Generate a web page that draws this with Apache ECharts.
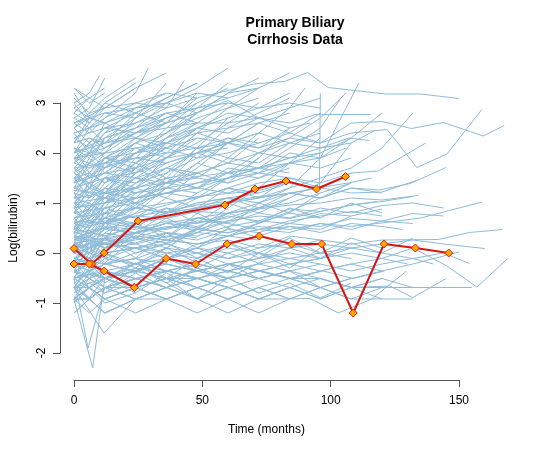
<!DOCTYPE html>
<html>
<head>
<meta charset="utf-8">
<script src="https://cdn.jsdelivr.net/npm/echarts@6/dist/echarts.min.js"></script>
<style>
  html, body { margin: 0; padding: 0; background: #fff; }
  #chart { width: 554px; height: 450px; }
</style>
</head>
<body>
<div id="chart"></div>
<script>
// axis ticks
const xTicks = [0, 50, 100, 150]
const yTicks = [-2, -1, 0, 1, 2, 3]

// highlighted patients: time (months) / log(bilirubin)
const hiA_time = [0, 6.9, 11.8, 25, 58.8, 70.5, 82.6, 94.5, 105.8]
const hiA_value = [0.09, -0.22, 0, 0.64, 0.96, 1.28, 1.44, 1.28, 1.53]
const hiB_time = [0, 6, 11.8, 23.5, 35.9, 47.4, 59.6, 72.2, 84.8, 96.5, 108.8, 120.8, 133, 146]
const hiB_value = [-0.22, -0.22, -0.36, -0.69, -0.11, -0.22, 0.18, 0.34, 0.18, 0.18, -1.2, 0.18, 0.1, 0]

// all other patients, each as t,y,t,y,...
const patients = [
  [0,-0.92, 6,-0.92, 12,-0.69, 24,-0.92, 36,-0.92, 48,-0.69, 60,-0.92, 72,-0.69, 84,-0.92, 96,-0.69],
  [0,-0.69, 6,-0.51, 12,-0.69, 25,-0.51, 37,-0.36, 49,-0.51, 61,-0.22, 73,-0.36, 85,-0.51, 97,-0.36, 109,-0.51, 121,-0.36],
  [0,-0.51, 6,-0.36, 12,-0.22, 24,-0.36, 36,-0.11, 48,0, 60,-0.22, 72,-0.11, 84,0.1, 96,0.18, 108,0.1],
  [0,-0.36, 6,-0.51, 12,-0.36, 24,-0.22, 36,-0.36, 48,-0.51, 60,-0.36, 72,-0.51, 84,-0.69, 96,-0.51, 108,-0.69, 120,-0.51, 132,-0.69],
  [0,-0.22, 6,-0.11, 12,0, 24,0.1, 36,-0.11, 48,0.18, 60,0.26, 72,0.1, 84,0.34, 96,0.26],
  [0,0, 6,0.1, 12,0.18, 24,0.26, 36,0.41, 48,0.34, 60,0.53, 72,0.64, 84,0.59, 96,0.79, 108,0.74],
  [0,-0.11, 6,-0.22, 12,-0.36, 24,-0.51, 36,-0.36, 48,-0.22, 60,-0.36, 72,-0.51, 84,-0.36],
  [0,0.1, 6,0, 12,-0.11, 24,0.1, 36,0.18, 48,0, 60,-0.11, 72,0.1, 84,0.18, 96,0, 108,0.1, 120,0.18, 132,0.26, 144,0.18, 160,0.09],
  [0,-0.69, 6,-0.92, 12,-0.69, 24,-0.51, 36,-0.69, 48,-0.92, 60,-0.69, 72,-0.92, 84,-0.69, 96,-0.92, 108,-0.69, 120,-0.51],
  [0,-0.92, 6,-0.69, 12,-0.92, 24,-0.69, 36,-0.51, 48,-0.69, 60,-0.51, 72,-0.36, 84,-0.51, 96,-0.69, 108,-0.92, 120,-0.69, 131,-0.69, 143,-0.69, 155,-0.69],
  [0,-1.2, 6,-0.92, 12,-1.2, 24,-0.92, 36,-0.69, 48,-0.92, 60,-1.2, 72,-0.92, 84,-0.69],
  [0,0.34, 6,0.26, 12,0.47, 24,0.41, 36,0.59, 48,0.53, 60,0.74, 72,0.64, 84,0.88, 96,0.83, 108,0.96, 120,1.03, 132,1.13],
  [0,0.53, 6,0.64, 12,0.59, 24,0.79, 36,0.96, 48,1.13, 60,1.19, 72,1.25, 84,1.41],
  [0,-0.51, 6,-0.69, 12,-0.51, 24,-0.36, 36,-0.51, 48,-0.36, 60,-0.22, 72,-0.36, 84,-0.22, 96,-0.11, 108,0, 120,-0.11, 132,0.1, 145,-0.25, 157,-0.68, 169,-0.11],
  [0,-0.36, 6,-0.22, 12,-0.36, 24,-0.51, 36,-0.69, 48,-0.51, 60,-0.69, 72,-0.51, 84,-0.36, 96,-0.51, 108,-0.69, 123,-0.66, 132,-0.89, 145,-0.51],
  [0,0.18, 6,0.26, 12,0.1, 24,0.34, 36,0.26, 48,0.47, 60,0.41, 72,0.53, 84,0.47, 96,0.59, 108,0.53, 123,0.62, 135,0.7, 159,1.02],
  [0,0.1, 6,0.18, 12,0, 24,0.1, 36,-0.11, 48,0.1, 60,0, 72,0.18, 84,0.1, 96,0.26, 108,0.18, 120,0.26, 142,0.27, 154,0.41, 167,0.47],
  [0,-0.22, 6,-0.36, 12,-0.22, 24,-0.11, 36,-0.22, 48,-0.36, 60,-0.22, 72,-0.11, 84,0, 96,-0.11, 108,0.1, 120,0, 132,-0.11, 144,0, 154,-0.21],
  [0,-0.92, 6,-0.69, 12,-0.51, 24,-0.69, 36,-0.92, 48,-1.2, 60,-0.92, 72,-0.69, 84,-0.51, 96,-0.69, 108,-0.51, 120,-0.36, 132,-0.22, 150,0.02],
  [0,0.26, 6,0.41, 12,0.34, 24,0.53, 36,0.47, 48,0.64, 60,0.59, 72,0.47, 84,0.64, 96,0.74, 108,0.83, 120,0.74],
  [0,2.6, 12,2.9, 24,3.0, 36,3.2, 48,3.1, 60,3.25, 70,3.38, 82,3.43, 91,3.61, 99,3.31, 121.5,3.18, 135,3.18, 150,3.09],
  [0,1.4, 12,1.6, 24,1.7, 36,1.9, 48,2.0, 60,2.2, 72,2.1, 84,2.3, 96,2.2, 108,2.4, 122,2.47, 133.6,1.71, 145.3,1.98, 158.9,2.87],
  [0,1.9, 12,2.0, 24,2.1, 36,2.2, 48,2.1, 60,2.3, 72,2.2, 84,2.4, 96,2.2, 108,2.6, 120,2.63, 131.5,2.49, 143.9,2.61, 159.4,2.34, 167.6,2.55],
  [0,0.6, 12,0.7, 24,0.9, 36,0.8, 48,1.0, 60,1.1, 72,1.0, 84,1.2, 96,1.1, 108,1.3, 119,1.26, 131,1.39, 145,1.71],
  [0,0.9, 12,1.0, 24,1.1, 36,1.2, 48,1.3, 60,1.2, 72,1.4, 84,1.5, 96,1.4, 108,1.6, 118.5,1.64, 137,2.2],
  [0,0.4, 12,0.5, 24,0.6, 36,0.7, 48,0.9, 60,1.0, 72,1.1, 84,1.2, 96,1.3, 108,1.2, 120,1.22, 134,1.46],
  [0,1.0, 12,1.1, 24,1.0, 36,1.2, 48,1.1, 60,1.3, 72,1.2, 84,1.4, 95.6,1.3, 96,3.19],
  [0,2.0, 12,2.2, 24,2.4, 36,2.5, 48,2.6, 60,2.6, 72,2.7, 84,2.6, 94,2.77, 115.6,2.77],
  [0,0.2, 12,0.3, 24,0.4, 36,0.5, 48,0.7, 60,0.8, 72,1.0, 84,1.3, 96,1.9, 111,3.4],
  [0,0.7, 12,0.8, 24,0.9, 36,1.0, 48,1.1, 60,1.3, 72,1.5, 84,1.8, 96,2.0, 108,2.3, 120,2.8],
  [0,0.5, 12,0.6, 24,0.6, 36,0.8, 48,0.9, 60,1.0, 72,1.1, 84,1.3, 96,1.5, 108,1.7, 120,2.1, 132,2.8],
  [0,1.1, 12,1.2, 24,1.3, 36,1.5, 48,1.6, 60,1.8, 72,2.0, 84,2.3, 96,2.7, 106,3.2],
  [0,0.3, 12,0.2, 24,0.4, 36,0.6, 48,0.5, 60,0.8, 72,0.9, 84,1.1, 96,1.4, 108,2.2],
  [0,0.8, 12,0.9, 24,1.1, 36,1.2, 48,1.4, 60,1.5, 72,1.7, 84,2.1, 96,2.5, 104,3.1],
  [0,1.3, 12,1.5, 24,1.6, 36,1.8, 48,2.0, 60,2.2, 72,2.4, 84,2.9, 90,3.3],
  [0,2.9, 6,3.1, 12,3.3],
  [0,2.5, 6,2.8, 12,3.1, 24,3.5],
  [0,3.3, 6,3.0, 12,3.2],
  [0,2.2, 6,2.6, 12,2.9, 24,3.3, 36,3.6],
  [0,1.8, 6,2.0, 12,2.4, 24,2.9, 36,3.2],
  [0,2.0, 6,2.3, 12,2.2, 24,2.6, 36,2.9, 43,3.45],
  [0,1.5, 6,1.8, 12,2.1, 24,2.5, 36,3.0, 48,3.3, 60,3.7],
  [0,2.7, 6,2.9, 12,3.5],
  [0,3.0, 6,3.2, 10,3.55],
  [0,1.2, 6,1.6, 12,2.0, 24,2.7, 36,3.4],
  [0,1.0, 6,1.3, 12,1.7, 24,2.3, 36,2.6, 48,3.2],
  [0,2.4, 6,2.5, 12,2.7, 24,3.0, 36,2.9, 48,3.1],
  [0,0.8, 6,1.1, 12,1.5, 24,2.0, 36,2.4, 48,2.8, 60,3.2, 72,3.5],
  [0,2.1, 6,1.9, 12,2.3, 24,2.5, 36,2.8],
  [0,1.6, 6,1.4, 12,1.9, 24,2.2, 36,2.4, 48,2.7, 60,2.9, 72,3.3, 84,3.6],
  [0,2.6, 6,2.4, 12,2.7, 24,3.2, 29,3.7],
  [0,1.9, 6,2.2, 12,2.5, 24,2.8, 36,3.1, 48,3.4],
  [0,0.5, 6,0.9, 12,1.3, 24,1.8, 36,2.1],
  [0,0.2, 6,0.6, 12,1.0, 24,1.5, 36,1.9, 48,2.3],
  [0,-0.2, 6,0.3, 12,0.8, 24,1.4, 36,1.8],
  [0,-0.5, 6,0, 12,0.6, 24,1.2],
  [0,0, 6,0.5, 12,0.9, 24,1.6, 36,2.2, 48,2.6],
  [0,-0.7, 6,-0.2, 12,0.3, 24,0.9, 36,1.5],
  [0,0.4, 6,0.8, 12,1.2, 24,1.9, 36,2.5, 48,3.0],
  [0,1.4, 6,1.7, 12,1.8, 24,2.2, 36,2.6],
  [0,3.1, 6,2.8, 12,2.9],
  [0,2.8, 6,2.6],
  [0,2.3, 6,2.1, 12,2.4, 24,2.6],
  [0,1.7, 6,2.0, 12,2.0, 24,2.4, 36,2.7, 48,2.9, 60,3.1],
  [0,0.9, 6,1.2, 12,1.1, 24,1.6, 36,1.9, 48,2.2, 60,2.6, 72,3.0],
  [0,0.6, 6,0.7, 12,1.0, 24,1.4, 36,1.7, 48,2.0, 60,2.5, 72,2.8, 84,3.1],
  [0,1.1, 6,1.0, 12,1.4, 24,1.8, 36,2.3, 48,2.6],
  [0,1.3, 6,1.5, 12,1.6, 24,2.0, 36,2.2, 48,2.5, 60,2.8, 72,2.7, 84,2.9, 96,3.1],
  [0,-0.36, 6,0.1, 12,0.5, 24,1.1, 36,1.6, 48,2.1, 60,2.7],
  [0,2.5, 6,2.7, 12,2.6, 24,2.9, 36,3.0, 48,2.8, 60,3.2, 72,3.3],
  [0,1.5, 6,1.4, 12,1.6, 24,1.5, 36,1.7, 48,1.6, 60,1.8, 72,1.7, 84,1.9, 96,2.0],
  [0,1.2, 6,1.1, 12,1.3, 24,1.2, 36,1.4, 48,1.5, 60,1.4, 72,1.6, 84,1.5],
  [0,0.7, 6,0.8, 12,0.6, 24,0.9, 36,0.8, 48,1.0, 60,1.1, 72,0.9, 84,1.2, 96,1.1, 108,1.3, 120,1.2],
  [0,1.0, 6,0.9, 12,1.2, 24,1.1, 36,1.3, 48,1.2, 60,1.5, 72,1.7, 84,1.6],
  [0,0.3, 6,0.4, 12,0.5, 24,0.4, 36,0.6, 48,0.7, 60,0.6, 72,0.8, 84,0.7, 96,0.9, 108,0.8, 120,0.95, 132,1.0, 144,0.9],
  [0,1.8, 6,1.7, 12,1.9, 24,2.0, 36,2.1, 48,2.3, 60,2.2, 72,2.4],
  [0,2.1, 6,2.0, 12,2.2, 24,2.3, 36,2.2, 48,2.4, 60,2.5, 72,2.6, 84,2.8],
  [0,0.1, 6,0.2, 12,0.4, 24,0.3, 36,0.5, 48,0.6, 60,0.7, 72,0.9, 84,1.0, 96,1.2, 108,1.4],
  [0,0.6, 6,0.5, 12,0.7, 24,0.6, 36,0.8, 48,0.9, 60,1.1, 72,1.2],
  [0,1.6, 6,1.8, 12,1.7, 24,1.9, 36,1.8, 48,2.0, 60,2.1],
  [0,0, 6,-0.11, 12,0.1, 24,0.18, 36,0.34, 48,0.26, 60,0.47, 72,0.41, 84,0.59, 96,0.53, 108,0.69, 120,0.64, 132,0.79, 144,0.74],
  [0,0.41, 6,0.34, 12,0.53, 24,0.47, 36,0.64, 48,0.59, 60,0.79],
  [0,-0.11, 6,0, 12,-0.22, 24,-0.11, 36,0.1, 48,0, 60,0.18, 72,0.34, 84,0.53, 96,0.47, 108,0.74, 120,0.88],
  [0,0.9, 6,1.0, 12,0.8, 24,1.1, 36,1.2, 48,1.3, 60,1.5, 72,1.6, 84,1.8, 96,1.7, 108,1.9],
  [0,-0.92, 6,-0.69, 12,-0.92, 24,-0.69, 36,-0.92],
  [0,-0.69, 6,-0.92, 12,-0.69, 24,-0.92, 36,-0.69, 48,-0.51, 60,-0.69],
  [0,-0.51, 6,-0.69, 12,-0.92, 24,-0.69],
  [0,-0.36, 6,-0.51, 12,-0.36, 24,-0.69, 36,-0.51, 48,-0.69],
  [0,-0.92, 7.3,-2.3, 12,-0.51, 24,-0.36],
  [0,-0.69, 11.7,-1.6, 24,-0.92],
  [0,-0.51, 5.5,-1.9, 12,-0.69],
  [0,-1.2, 6,-0.92, 12,-0.69, 24,-0.51],
  [0,-0.92, 6,-1.2, 12,-0.92, 24,-1.2, 36,-0.92, 48,-0.69, 60,-0.92, 72,-1.2, 84,-0.92],
  [0,-0.51, 6,-0.36, 12,-0.51, 24,-0.36, 36,-0.22, 48,-0.36, 60,-0.51, 72,-0.36, 84,-0.51, 96,-0.36, 108,-0.22, 120,-0.36],
  [0,-0.22, 6,-0.36, 12,-0.11, 24,-0.22, 36,0, 48,-0.11, 60,0.1, 72,0, 84,-0.11, 96,-0.22],
  [0,0.1, 6,-0.11, 12,0, 24,-0.22, 36,-0.11, 48,-0.36, 60,-0.22, 72,-0.51, 84,-0.36, 96,-0.69, 108,-0.51],
  [0,0.18, 6,0.1, 12,0.26, 24,0.18, 36,0, 48,0.1, 60,-0.11, 72,0, 84,-0.22, 96,-0.11],
  [0,-0.69, 6,-0.51, 12,-0.69, 24,-0.51, 36,-0.36, 48,-0.51, 60,-0.69, 72,-0.92, 84,-0.69, 96,-0.92, 108,-0.69, 120,-0.92, 132,-0.92],
  [0,-0.92, 6,-0.92, 12,-0.69, 24,-0.69, 36,-0.51, 48,-0.51, 60,-0.36, 72,-0.51],
  [0,-0.36, 6,-0.22, 12,-0.51, 24,-0.36, 36,-0.51],
  [0,0.26, 6,0.34, 12,0.18, 24,0.1, 36,0.26, 48,0.18, 60,0.34, 72,0.26],
  [0,0.47, 6,0.41, 12,0.34, 24,0.53, 36,0.41],
  [0,-0.11, 6,-0.22, 12,0, 24,0.1, 36,0],
  [0,0, 6,0.1, 12,-0.11, 24,-0.22, 36,-0.36, 48,-0.22, 60,-0.36, 72,-0.22, 84,-0.11, 96,0, 108,-0.11],
  [0,-0.51, 6,-0.36, 12,-0.22, 24,0, 36,0.18, 48,0.41, 60,0.64, 72,0.88],
  [0,-0.92, 6,-0.69, 12,-0.51, 24,-0.36, 36,-0.11, 48,0.1, 60,0.34, 72,0.59, 84,0.83, 96,1.1, 108,1.4],
  [0,-0.69, 6,-0.69, 12,-0.51, 24,-0.22, 36,0.1, 48,0.47, 60,0.9, 72,1.3, 84,1.8, 96,2.3],
  [0,-0.36, 6,-0.22, 12,0.1, 24,0.41, 36,0.79, 48,1.1, 60,1.5, 72,1.9, 84,2.5],
  [0,0.1, 6,0.34, 12,0.59, 24,0.96, 36,1.4, 48,1.8, 60,2.2],
  [0,-0.51, 12,-0.36, 24,-0.51, 36,-0.69, 48,-0.51, 60,-0.69, 72,-0.92, 80,-0.92, 92,-0.91, 103,-1.2, 116,-0.92, 129.6,-0.36],
  [0,-0.36, 12,-0.51, 24,-0.36, 36,-0.22, 48,-0.36, 60,-0.22, 72,-0.36, 84,-0.51, 96,-0.51, 108,-0.69, 120,-0.69, 132,-0.69],
  [0,0.1, 12,0.18, 24,0.1, 36,0.26, 48,0.18, 60,0.34, 72,0.47, 84,0.41, 96,0.59, 108,0.47, 120,0.64, 132,0.59],
  [0,0.53, 12,0.64, 24,0.74, 36,0.69, 48,0.83, 60,0.79, 72,0.88, 84,0.96, 96,1.0, 108,1.1, 120,1.06, 134,1.15],
  [0,0.26, 12,0.18, 24,0.34, 36,0.26, 48,0.41, 60,0.34, 72,0.47, 84,0.53, 96,0.41, 108,0.59, 120,0.53, 128,0.47],
  [0,-0.11, 12,-0.22, 24,-0.11, 36,-0.36, 48,-0.22, 60,-0.36, 72,-0.22, 84,-0.36, 96,-0.22, 108,-0.36, 120,-0.22, 132,-0.11, 140,-0.22],
  [0,-0.69, 12,-0.51, 24,-0.69, 36,-0.51, 48,-0.36, 60,-0.51, 72,-0.36, 84,-0.22, 96,-0.36, 108,-0.22, 120,-0.11, 130,-0.22],
  [0,0.34, 12,0.26, 24,0.41, 36,0.53, 48,0.47, 60,0.64, 72,0.74, 84,0.69, 96,0.83, 108,0.96, 118,1.03],
  [0,0.64, 12,0.59, 24,0.74, 36,0.83, 48,0.96, 60,1.03, 72,1.13, 84,1.19, 96,1.31, 108,1.41, 116,1.5],
  [0,1.25, 12,1.19, 24,1.31, 36,1.41, 48,1.53, 60,1.61, 72,1.7, 84,1.8, 96,1.9, 106,2.1],
  [0,0.9, 12,1.0, 24,1.2, 36,1.3, 48,1.4, 60,1.6, 72,1.7, 84,1.9, 96,2.1, 108,2.2, 117.6,2.46],
  [0,1.7, 12,1.8, 24,1.9, 36,2.0, 48,2.1, 60,2.2, 72,2.0, 84,2.2, 96,2.1, 107,2.3, 115,2.25],
  [0,2.3, 12,2.5, 24,2.6, 36,2.8, 48,2.9, 60,3.0, 72,2.9, 84,3.0, 96,2.9],
  [0,1.9, 12,2.1, 24,2.4, 36,2.6, 48,2.8, 60,3.05, 72,2.7, 84,2.5, 92,2.6],
  [0,2.6, 12,2.8, 24,2.9, 36,3.0, 48,3.2, 60,3.1, 72,3.3],
  [0,2.0, 12,2.3, 24,2.5, 36,2.7, 48,3.0, 60,3.3],
  [0,2.4, 12,2.6, 24,2.8, 36,3.1, 48,3.4],
  [0,1.4, 12,1.7, 24,2.0, 36,2.3, 48,2.5, 60,2.7, 72,2.9, 84,3.2],
  [0,1.5, 6,1.6, 12,1.4, 24,1.7],
  [0,0.8, 6,0.7, 12,0.9, 24,1.0, 36,1.2],
  [0,1.9, 6,1.8, 12,2.0],
  [0,0.5, 6,0.4, 12,0.6, 24,0.5],
  [0,1.1, 6,1.3, 12,1.2, 24,1.5, 36,1.4, 48,1.6],
  [0,-0.1, 6,0.1, 12,0.3, 24,0.6],
  [0,0.7, 6,0.9, 12,1.1, 24,1.3],
  [0,2.2, 6,2.3, 12,2.1, 24,2.4, 36,2.6, 48,2.8],
  [0,1.7, 6,1.5, 12,1.8, 24,2.1],
  [0,0.2, 6,0, 12,0.3, 24,0.2, 36,0.4, 48,0.3],
  [0,-0.6, 6,-0.4, 12,-0.5, 24,-0.3, 36,-0.4],
  [0,-0.8, 6,-0.6, 12,-0.8, 24,-0.6],
  [0,3.2, 6,2.7],
  [0,2.9, 6,2.7, 12,2.6],
  [0,1.3, 6,1.2, 12,1.5, 24,1.4, 36,1.6, 48,1.9, 60,2.0, 72,2.2],
  [0,0, 6,0.2, 12,0.1, 24,0.3, 36,0.2, 48,0.5, 60,0.4, 72,0.6, 84,0.8, 96,0.7],
  [0,-1.2, 6,-0.92, 12,-1.2, 24,-0.92],
  [0,-0.92, 6,-0.69, 12,-0.92, 24,-0.69, 36,-0.92, 48,-0.69, 60,-0.92, 72,-0.69, 84,-0.92, 96,-0.69, 108,-0.92, 120,-0.92],
  [0,2.1, 6,1.6, 12,1.9, 24,1.8, 36,2.2],
  [0,0.9, 6,0.6, 12,0.8, 24,0.7, 36,0.9, 48,0.8, 60,1.0],
  [0,1.6, 6,1.3, 12,1.5, 24,1.2, 36,1.4, 48,1.3, 60,1.6, 72,1.5, 84,1.7],
  [0,2.7, 6,2.5, 12,2.8, 24,2.7, 36,3.0],
  [0,1.8, 6,2.2, 12,1.9, 24,2.3, 36,2.1, 48,2.5, 60,2.4, 72,2.7],
  [0,1.0, 6,1.4, 12,1.1, 24,1.5, 36,1.3, 48,1.8, 60,1.6, 72,2.0, 84,1.9],
  [0,0.4, 6,0.9, 12,0.6, 24,1.0, 36,0.8, 48,1.2],
  [0,-0.2, 6,0.2, 12,-0.1, 24,0.4, 36,0.3, 48,0.7, 60,0.6],
  [0,1.2, 6,0.8, 12,1.3, 24,1.0, 36,1.5, 48,1.3, 60,1.7, 72,1.6, 84,2.0, 96,1.9, 108,2.3],
  [0,2.4, 6,2.0, 12,2.6, 24,2.3, 36,2.7],
  [0,0.6, 6,1.0, 12,0.7, 24,1.3, 36,1.1, 48,1.6, 60,1.4, 72,1.9],
  [0,-0.4, 6,-0.1, 12,-0.5, 24,-0.2, 36,-0.6, 48,-0.3, 60,-0.5, 72,-0.2],
  [0,-0.7, 6,-0.3, 12,-0.6, 24,-0.2, 36,-0.5, 48,-0.1, 60,-0.4, 72,0, 84,-0.3, 96,0.1],
  [0,0.2, 6,-0.2, 12,0.3, 24,-0.1, 36,0.4, 48,0.1, 60,0.5, 72,0.3],
  [0,1.4, 6,1.9, 12,1.6, 24,2.1, 36,1.9, 48,2.4, 60,2.2, 72,2.6, 84,2.4, 96,2.8],
  [0,3.0, 6,2.6, 12,3.0, 24,2.8],
  [0,2.0, 6,2.5, 12,2.2, 24,2.8, 36,2.6, 48,3.1],
  [0,0.8, 6,1.3, 12,1.0, 24,1.7, 36,1.4, 48,2.0, 60,1.8, 72,2.3],
  [0,-0.9, 6,-0.5, 12,-0.8, 24,-0.4, 36,-0.7, 48,-0.3, 60,-0.6],
  [0,-0.6, 6,-0.9, 12,-0.5, 24,-0.8, 36,-0.4, 48,-0.7, 60,-0.5, 72,-0.8, 84,-0.6, 96,-0.9, 108,-0.6],
  [0,0, 6,0.4, 12,0.1, 24,0.6, 36,0.3, 48,0.8, 60,0.5, 72,1.0, 84,0.8, 96,1.2],
  [0,1.6, 6,2.0, 12,1.7, 24,2.2, 36,2.0, 48,2.5],
  [0,0.9, 6,1.4, 12,1.2, 24,1.8, 36,1.5, 48,2.1, 60,1.9, 72,2.4, 84,2.2],
  [0,-0.3, 6,0.1, 12,-0.2, 24,0.3, 36,0.1, 48,0.5],
  [0,0.5, 6,0.2, 12,0.6, 24,0.3, 36,0.7, 48,0.4, 60,0.8, 72,0.6, 84,0.9, 96,0.7, 108,1.0, 120,0.8],
  [0,1.1, 6,1.6, 12,1.4, 24,2.0, 36,2.4, 48,2.9, 60,3.4],
  [0,0.3, 6,0.7, 12,1.2, 24,1.7, 36,2.3, 48,2.8],
  [0,-0.5, 6,-0.1, 12,0.4, 24,0.8, 36,1.3, 48,1.7, 60,2.2, 72,2.6],
  [0,2.8, 6,3.1, 12,2.9, 24,3.3],
  [0,1.7, 6,1.3, 12,1.8, 24,1.6, 36,2.0],
  [0,0.7, 6,0.4, 12,0.8, 24,0.5, 36,0.9, 48,0.6, 60,1.0, 72,0.8, 84,1.1],
  [0,-0.1, 6,-0.4, 12,0, 24,-0.3, 36,0.1, 48,-0.2, 60,0.2, 72,-0.1, 84,0.3, 96,0, 108,0.3, 120,0.1],
  [0,-0.8, 6,-0.4, 12,-0.7, 24,-0.3, 36,-0.6, 48,-0.92, 60,-0.5, 72,-0.8],
  [0,1.3, 6,1.8, 12,2.3, 24,2.7, 36,3.1],
  [0,2.2, 6,2.7, 12,3.0, 24,3.4],
  [0,0.1, 6,0.5, 12,1.0, 24,1.3, 36,1.9, 48,2.4, 60,2.9, 72,3.1],
  [0,1.9, 6,1.5, 12,1.9, 24,1.7, 36,2.1, 48,1.9, 60,2.3, 72,2.1, 84,2.5],
  [0,0.6, 6,0.3, 12,0.7, 24,0.5, 36,0.9],
  [0,-0.36, 6,-0.69, 12,-0.36, 24,-0.69, 36,-0.51, 48,-0.92, 60,-0.69],
  [0,2.5, 6,2.2, 12,2.5, 24,2.4, 36,2.8, 48,2.6, 60,3.0],
  [0,1.5, 6,1.1, 12,1.5, 24,1.3, 36,1.7, 48,1.5, 60,1.9, 72,1.8, 84,2.2, 96,2.4],
  [0,0.9, 6,0.5, 12,0.9, 24,0.7, 36,1.1, 48,0.9, 60,1.3, 72,1.1, 84,1.5, 96,1.3, 108,1.6],
  [0,-0.2, 6,-0.5, 12,-0.2, 24,-0.4, 36,-0.1, 48,-0.3, 60,0, 72,-0.2, 84,0.1, 96,-0.1, 108,0.2, 120,0, 132,0.3],
  [0,0.4, 6,0, 12,0.3, 24,0, 36,0.2, 48,-0.1, 60,0.2, 72,0, 84,0.3],
  [0,3.3, 6,3.1],
  [0,1.0, 6,0.7, 12,1.1, 24,0.9, 36,1.3],
  [0,-1.0, 6,-0.7, 12,-1.0, 24,-0.8],
  [0,-0.6, 6,-0.92, 12,-1.2, 24,-0.92, 36,-0.69]
]

const chart = echarts.init(document.getElementById('chart'))

const toPairs = (flat) => {
  const out = []
  for (let i = 0; i < flat.length; i += 2) out.push([flat[i], flat[i + 1]])
  return out
}

const zip = (ts, ys) => ts.map((t, i) => [t, ys[i]])

const series = patients.map(p => ({
  type: 'line',
  data: toPairs(p),
  showSymbol: false,
  silent: true,
  lineStyle: { color: '#8DBBD8', width: 1 }
}))

const hiStyle = {
  type: 'line',
  symbol: 'diamond',
  symbolSize: 8,
  showSymbol: true,
  lineStyle: { color: '#D61515', width: 2 },
  itemStyle: { color: '#FFA500', borderColor: '#E02010', borderWidth: 1 },
  z: 5
}
series.push({ ...hiStyle, data: zip(hiA_time, hiA_value) })
series.push({ ...hiStyle, data: zip(hiB_time, hiB_value) })

const labelFont = { fontFamily: 'Liberation Sans, Arial, sans-serif', fontSize: 12, color: '#000' }
const axisCol = { color: '#555', width: 1 }

chart.setOption({
  animation: false,
  title: {
    text: 'Primary Biliary\nCirrhosis Data',
    left: 290,
    top: 10,
    textAlign: 'center',
    textStyle: { fontFamily: 'Liberation Sans, Arial, sans-serif', fontSize: 14, fontWeight: 'bold', color: '#000', lineHeight: 17 }
  },
  // 0: data area (R plot region), 1: drawn x axis (0..150), 2: drawn y axis (-2..3)
  grid: [
    { left: 56.5, right: 26.2, top: 56, bottom: 70 },
    { left: 74, width: 385, top: 56, bottom: 70 },
    { left: 56.5, right: 26.2, top: 103, height: 250 }
  ],
  xAxis: [
    { gridIndex: 0, type: 'value', min: -6.8, max: 176.8, show: false },
    {
      gridIndex: 1,
      type: 'value',
      min: xTicks[0],
      max: xTicks[xTicks.length - 1],
      interval: 50,
      position: 'bottom',
      splitLine: { show: false },
      axisLine: { show: true, onZero: false, lineStyle: axisCol },
      axisTick: { show: true, length: 7, lineStyle: axisCol },
      axisLabel: { ...labelFont, margin: 15 },
      name: 'Time (months)',
      nameLocation: 'middle',
      nameGap: 44,
      nameTextStyle: labelFont
    },
    { gridIndex: 2, type: 'value', min: 0, max: 1, show: false }
  ],
  yAxis: [
    { gridIndex: 0, type: 'value', min: -2.54, max: 3.94, show: false },
    { gridIndex: 1, type: 'value', min: 0, max: 1, show: false },
    {
      gridIndex: 2,
      type: 'value',
      min: yTicks[0],
      max: yTicks[yTicks.length - 1],
      interval: 1,
      position: 'left',
      splitLine: { show: false },
      axisLine: { show: true, onZero: false, lineStyle: axisCol },
      axisTick: { show: true, length: 7, lineStyle: axisCol },
      axisLabel: { ...labelFont, rotate: 90, margin: 12 },
      name: 'Log(bilirubin)',
      nameLocation: 'middle',
      nameGap: 40,
      nameRotate: 90,
      nameTextStyle: labelFont
    }
  ],
  series
})
</script>
</body>
</html>
